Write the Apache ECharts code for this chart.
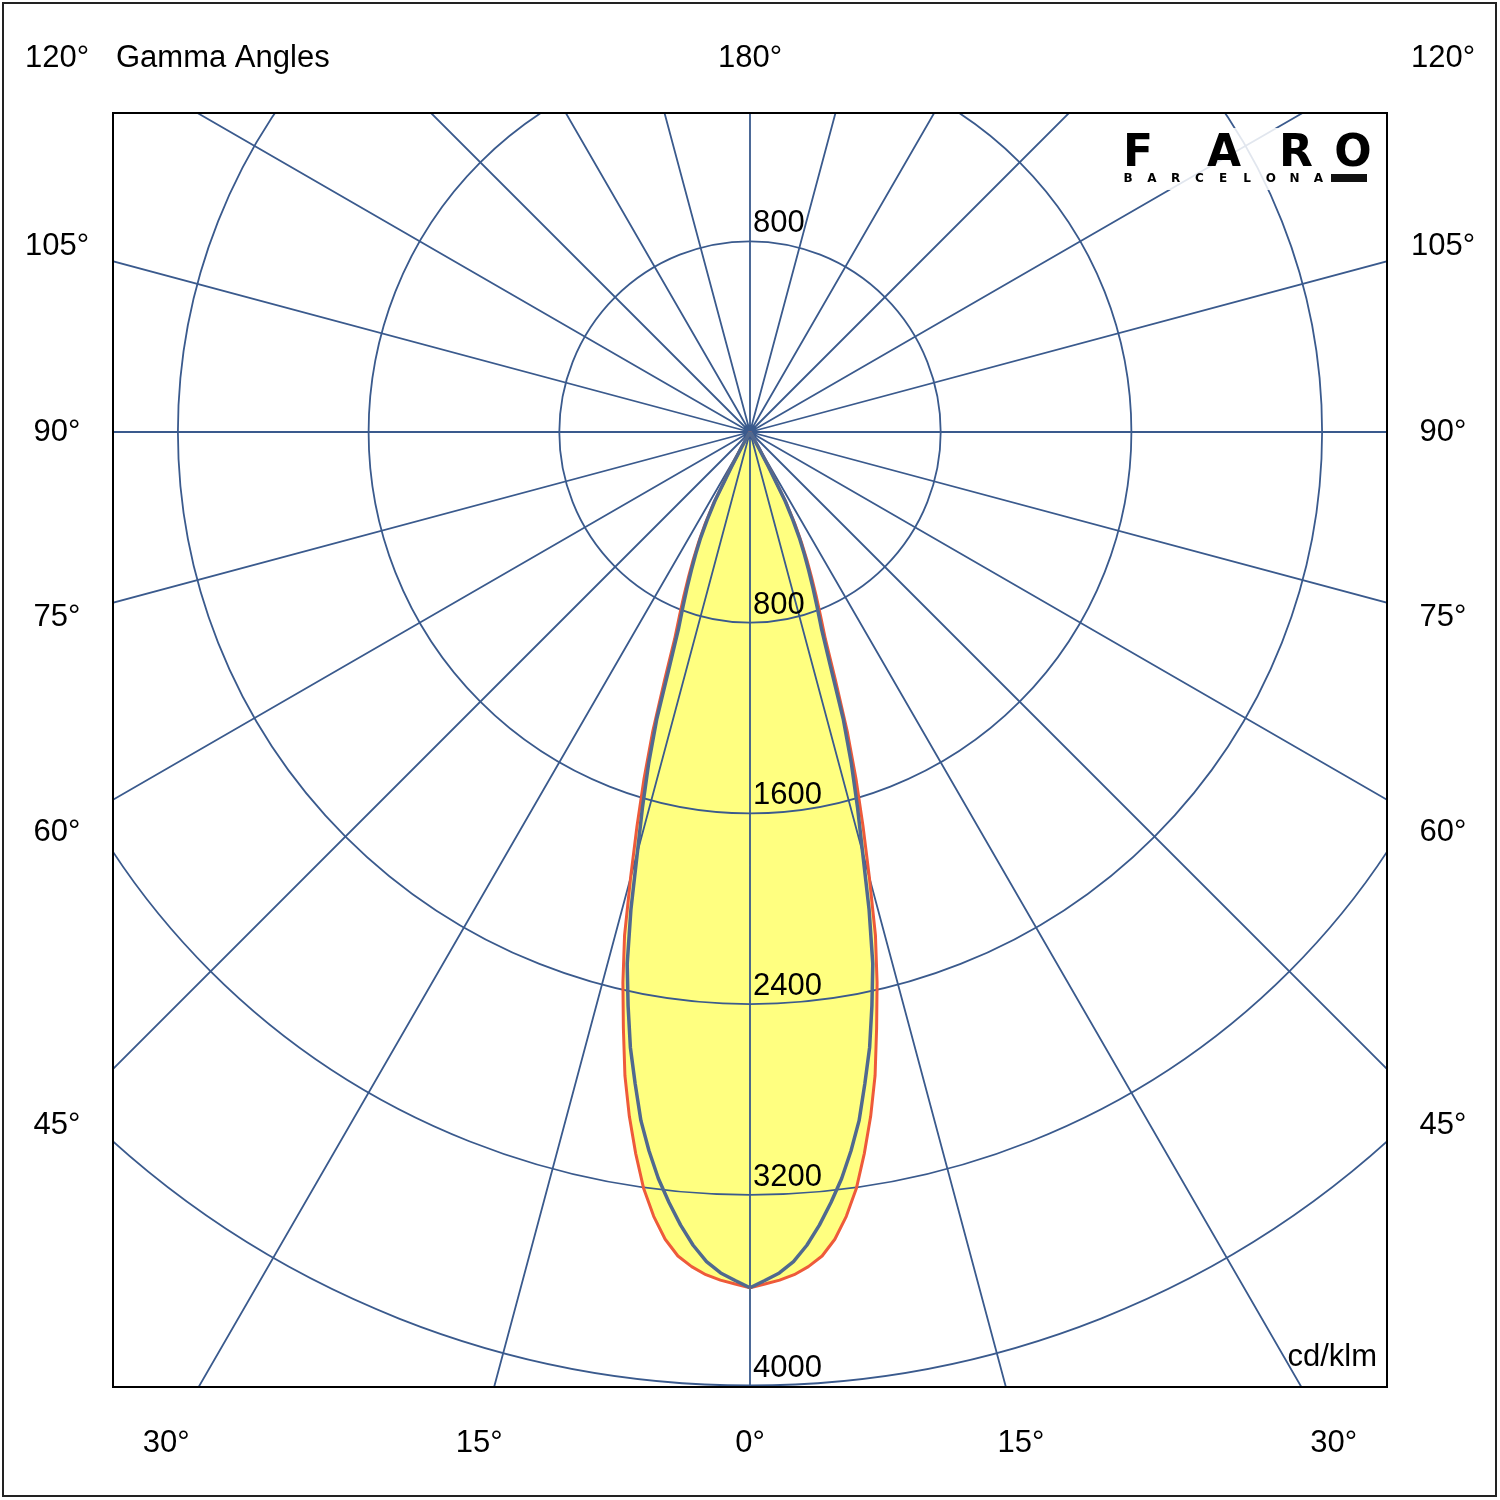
<!DOCTYPE html>
<html>
<head>
<meta charset="utf-8">
<script src="https://cdn.jsdelivr.net/npm/echarts@6/dist/echarts.min.js"></script>
<style>
  html, body { margin: 0; padding: 0; background: #fff; }
  #chart { width: 1500px; height: 1500px; }
</style>
</head>
<body>
<div id="chart"></div>
<script>
// gamma angles (deg) and intensities in cd/klm
var gammas = [0, 1, 2, 3, 4, 5, 6, 7, 8, 9, 10, 11, 12, 13, 14, 15, 16,
  17, 18, 19, 20, 21, 22, 23, 24, 25, 26, 27, 28, 29, 30, 31, 32];
var planeC0 = [3590, 3575, 3560, 3540, 3510, 3470, 3405, 3315, 3205, 3065, 2915, 2750,
  2555, 2370, 2175, 1935, 1720, 1520, 1320, 1100, 925, 825, 740, 660, 585, 510,
  430, 340, 185, 85, 20, 0, 0];
var planeC90 = [3590, 3560, 3530, 3485, 3420, 3340, 3250, 3155, 3045, 2925, 2775, 2630,
  2460, 2290, 2065, 1825, 1635, 1455, 1265, 1030, 875, 785, 705, 630, 560, 490,
  410, 325, 165, 70, 15, 0, 0];

var ringStep = 800;
var ringMax = 4000;
var sideGammas = [105, 90, 75, 60, 45];
var bottomGammas = [30, 15, 0];
var topLabels = ['120°', '180°'];

var cx = 750, cy = 432, R = 953.5;
var R2 = 1300; // radial grid lines reach the frame corners
var box = { x1: 113, y1: 113, x2: 1387, y2: 1387 };
var gridColor = '#3a5a8d';
var font = 'Liberation Sans, Arial, sans-serif';

var myChart = echarts.init(document.getElementById('chart'));

// closed outline: left half uses gamma, right half mirrors to 360 - gamma
function outline(values) {
  var pts = [];
  for (var i = 0; i < gammas.length; i++) pts.push([values[i], gammas[i]]);
  for (var j = gammas.length - 1; j >= 0; j--) pts.push([values[j], 360 - gammas[j]]);
  return pts;
}

function txt(s, x, y, align, size, weight, family) {
  return {
    type: 'text', z: 101, silent: true,
    style: {
      text: s, x: x, y: y, fill: '#000',
      font: (weight || 'normal') + ' ' + (size || 31) + 'px ' + (family || font),
      textAlign: align || 'center', textVerticalAlign: 'middle',
      align: align || 'center', verticalAlign: 'middle'
    }
  };
}

var graphics = [];
// white masks outside the square frame
graphics.push({ type: 'rect', z: 100, silent: true, shape: { x: 0, y: 0, width: 1500, height: box.y1 }, style: { fill: '#fff' } });
graphics.push({ type: 'rect', z: 100, silent: true, shape: { x: 0, y: box.y2, width: 1500, height: 1500 - box.y2 }, style: { fill: '#fff' } });
graphics.push({ type: 'rect', z: 100, silent: true, shape: { x: 0, y: 0, width: box.x1, height: 1500 }, style: { fill: '#fff' } });
graphics.push({ type: 'rect', z: 100, silent: true, shape: { x: box.x2, y: 0, width: 1500 - box.x2, height: 1500 }, style: { fill: '#fff' } });
// square frame and outer border
graphics.push({ type: 'rect', z: 101, silent: true,
  shape: { x: box.x1, y: box.y1, width: box.x2 - box.x1, height: box.y2 - box.y1 },
  style: { fill: 'none', stroke: '#000', lineWidth: 2 } });
graphics.push({ type: 'rect', z: 101, silent: true,
  shape: { x: 3, y: 3, width: 1493, height: 1493 },
  style: { fill: 'none', stroke: '#222', lineWidth: 2 } });

// gamma labels
graphics.push(txt(topLabels[0], 57, 58));
graphics.push(txt(topLabels[0], 1443, 58));
graphics.push(txt(topLabels[1], cx, 58));
graphics.push(txt('Gamma Angles', 116, 58, 'left'));
sideGammas.forEach(function (g) {
  var y = cy + 693 / Math.tan(g * Math.PI / 180);
  graphics.push(txt(g + '°', 57, y));
  graphics.push(txt(g + '°', 1443, y));
});
bottomGammas.forEach(function (g) {
  var dx = 1011 * Math.tan(g * Math.PI / 180);
  graphics.push(txt(g + '°', cx - dx, 1443));
  if (g > 0) graphics.push(txt(g + '°', cx + dx, 1443));
});
graphics.push(txt('cd/klm', 1377, 1357, 'right'));

// logo
graphics.push({ type: 'rect', z: 100, silent: true,
  shape: { x: 1112, y: 128, width: 262, height: 62 },
  style: { fill: 'rgba(255,255,255,0.85)' } });
var logoBig = ['F', 'A', 'R', 'O'];
var logoBigX = [1138, 1224, 1296, 1353];
logoBig.forEach(function (c, i) {
  graphics.push(txt(c, logoBigX[i], 155, 'center', 44, 'bold', 'DejaVu Sans, sans-serif'));
});
'BARCELONA'.split('').forEach(function (c, i) {
  graphics.push(txt(c, 1128 + i * 23.8, 179, 'center', 12, 'bold', 'DejaVu Sans, sans-serif'));
});
graphics.push({ type: 'rect', z: 101, silent: true,
  shape: { x: 1331, y: 174, width: 36, height: 8 }, style: { fill: '#111' } });

var labelStyle = {
  color: '#000', fontSize: 31, fontFamily: font,
  align: 'left', verticalAlign: 'bottom', padding: [0, 0, 2, 0]
};

var option = {
  animation: false,
  backgroundColor: '#fff',
  polar: [
    { center: [cx, cy], radius: R },
    { center: [cx, cy], radius: R2 }
  ],
  angleAxis: [
    {
      polarIndex: 0, type: 'value', min: 0, max: 360, interval: 15,
      startAngle: 270, clockwise: true, z: 3,
      axisLine: { show: false }, axisTick: { show: false }, axisLabel: { show: false },
      splitLine: { show: false }
    },
    {
      polarIndex: 1, type: 'value', min: 0, max: 360, interval: 15,
      startAngle: 90, z: 3,
      axisLine: { show: false }, axisTick: { show: false }, axisLabel: { show: false },
      splitLine: { show: true, lineStyle: { color: gridColor, width: 1.8 } }
    }
  ],
  radiusAxis: [
    {
      polarIndex: 0, type: 'value', min: 0, max: ringMax, interval: ringStep, z: 3,
      axisLine: { show: false }, axisTick: { show: false },
      splitLine: { show: true, lineStyle: { color: gridColor, width: 1.8 } },
      axisLabel: Object.assign({
        inside: true, margin: 3, showMinLabel: false,
        formatter: function (v) { return String(v); }
      }, labelStyle)
    },
    {
      polarIndex: 1, type: 'value', min: 0, max: ringMax * R2 / R, interval: ringStep, z: 3,
      axisLine: { show: false }, axisTick: { show: false }, splitLine: { show: false },
      axisLabel: Object.assign({
        margin: -3,
        formatter: function (v) { return v === ringStep ? String(v) : ''; }
      }, labelStyle)
    }
  ],
  series: [
    {
      type: 'line', coordinateSystem: 'polar', polarIndex: 0, z: 1,
      data: outline(planeC0), symbol: 'none', silent: true,
      lineStyle: { width: 0 },
      areaStyle: { color: '#ffff80', opacity: 1 }
    },
    {
      type: 'line', coordinateSystem: 'polar', polarIndex: 0, z: 5,
      data: outline(planeC0), symbol: 'none', silent: true,
      lineStyle: { color: '#ee5a3a', width: 3 }
    },
    {
      type: 'line', coordinateSystem: 'polar', polarIndex: 0, z: 6,
      data: outline(planeC90), symbol: 'none', silent: true,
      lineStyle: { color: '#50698f', width: 3.5 }
    }
  ],
  graphic: graphics
};

myChart.setOption(option);
</script>
</body>
</html>
